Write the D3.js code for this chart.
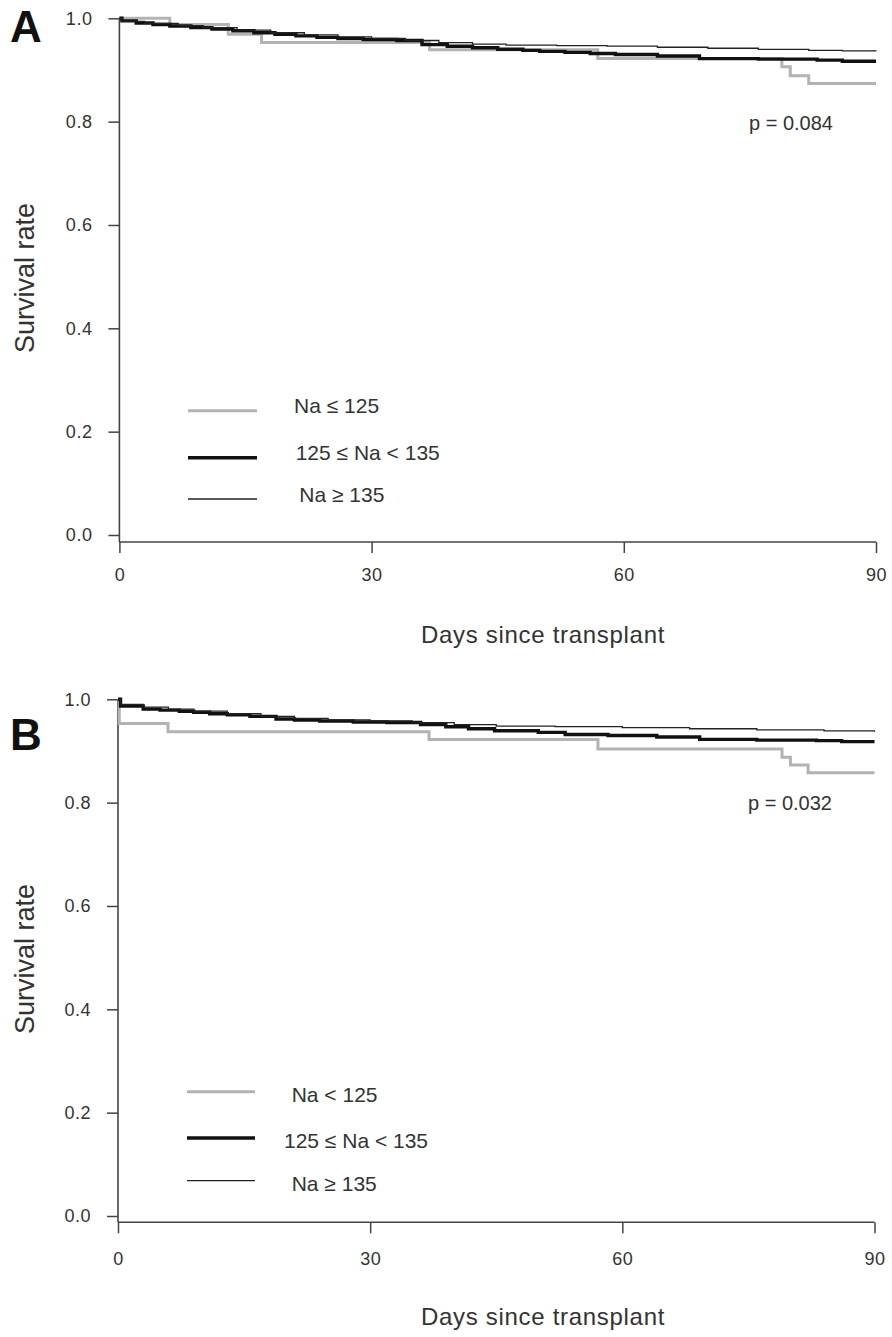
<!DOCTYPE html>
<html>
<head>
<meta charset="utf-8">
<script src="https://cdn.jsdelivr.net/npm/d3@7"></script>
<style>
  body { margin: 0; background: #fff; }
  text { font-family: "Liberation Sans", Arial, sans-serif; fill: #333; }
</style>
</head>
<body>
<svg id="chart" width="892" height="1337"></svg>
<script>
// Panel A, Kaplan-Meier steps (day, survival)
const aLowDays  = [0, 6.0, 12.95, 16.9, 36.9, 56.9, 78.8, 79.8, 82.0, 90];
const aLowSurv  = [1.0, 0.988, 0.969, 0.953, 0.939, 0.922, 0.906, 0.889, 0.874, 0.874];
const aMidDays  = [0, 0.3, 2, 4, 6, 8.5, 11, 13.5, 16, 18.5, 21, 23.5, 26, 29, 33, 36, 39, 42, 45, 48, 50, 53, 56, 59, 64, 69, 76, 83, 86, 90];
const aMidSurv  = [1.0, 0.995, 0.991, 0.988, 0.985, 0.982, 0.979, 0.976, 0.972, 0.969, 0.966, 0.963, 0.961, 0.959, 0.957, 0.949, 0.946, 0.943, 0.940, 0.938, 0.936, 0.934, 0.932, 0.930, 0.927, 0.922, 0.921, 0.919, 0.917, 0.917];
const aHighDays = [0, 0.3, 3, 7, 10, 14, 18, 22, 26, 30, 34, 38, 42, 46, 52, 58, 64, 70, 76, 82, 86, 90];
const aHighSurv = [1.0, 0.994, 0.990, 0.986, 0.982, 0.977, 0.972, 0.968, 0.964, 0.961, 0.957, 0.953, 0.950, 0.948, 0.947, 0.946, 0.944, 0.942, 0.940, 0.938, 0.937, 0.936];

// Panel B
const bLowDays  = [0, 0.15, 5.95, 37.0, 57.1, 79.0, 80.0, 82.1, 90];
const bLowSurv  = [1.0, 0.953, 0.937, 0.922, 0.904, 0.888, 0.873, 0.858, 0.858];
const bMidDays  = [0, 0.3, 3, 5, 7.3, 9, 10.9, 13, 15.7, 18.8, 21, 24, 28, 32, 36, 39, 41.7, 44.8, 50, 53.2, 58.3, 64.1, 69.2, 76, 83.1, 86.1, 90];
const bMidSurv  = [1.0, 0.987, 0.981, 0.979, 0.977, 0.975, 0.972, 0.970, 0.967, 0.962, 0.960, 0.958, 0.956, 0.955, 0.951, 0.947, 0.943, 0.939, 0.936, 0.932, 0.930, 0.927, 0.9225, 0.921, 0.920, 0.918, 0.918];
const bHighDays = [0, 0.3, 3, 6, 9, 13, 17, 21, 25, 30, 35, 40, 45, 52, 60, 68, 76, 84, 90];
const bHighSurv = [1.0, 0.990, 0.985, 0.981, 0.977, 0.972, 0.967, 0.963, 0.960, 0.958, 0.955, 0.951, 0.948, 0.947, 0.945, 0.943, 0.941, 0.939, 0.937];

const xTicks = [0, 30, 60, 90];
const yTicks = [0, 0.2, 0.4, 0.6, 0.8, 1.0];
const aLabels = ['Na \u2264 125', '125 \u2264 Na < 135', 'Na \u2265 135'];
const bLabels = ['Na < 125', '125 \u2264 Na < 135', 'Na \u2265 135'];
const pValues = ['p = 0.084', 'p = 0.032'];

const styles = [
  {stroke: '#b3b3b3', width: 3},
  {stroke: '#111', width: 3.4},
  {stroke: '#222', width: 1.3}
];

const svg = d3.select('#chart');

function drawPanel(p) {
  const x = d3.scaleLinear().domain([0, 90]).range([p.x0, p.x1]);
  const y = d3.scaleLinear().domain([0, 1]).range([p.y0, p.y1]);
  const g = svg.append('g');

  //Y axis: ticks to the left, spine runs down to the x axis line.
  g.append('g')
    .attr('transform', `translate(${p.x0},0)`)
    .call(d3.axisLeft(y).tickValues(yTicks).tickFormat(d3.format('.1f')).tickSize(11).tickPadding(16))
    .call(a => a.select('.domain').remove())
    .call(a => a.selectAll('line').attr('stroke', '#444').attr('stroke-width', 1.5))
    .call(a => a.selectAll('text').attr('font-size', 18).attr('fill', '#333')
      .attr('letter-spacing', 0.5)
      .attr('font-family', '"Liberation Sans", Arial, sans-serif'));
  g.append('line')
    .attr('x1', p.x0).attr('x2', p.x0)
    .attr('y1', y(1)).attr('y2', p.axisY)
    .attr('stroke', '#444').attr('stroke-width', 1.6);

  //X axis sits a little below 0.0.
  g.append('g')
    .attr('transform', `translate(0,${p.axisY})`)
    .call(d3.axisBottom(x).tickValues(xTicks).tickSize(11))
    .call(a => a.select('.domain').attr('stroke', '#444').attr('stroke-width', 1.6)
      .attr('d', `M${p.x0},0H${p.x1}`))
    .call(a => a.selectAll('line').attr('stroke', '#444').attr('stroke-width', 1.5))
    .call(a => a.selectAll('text').attr('font-size', 18).attr('fill', '#333')
      .attr('letter-spacing', 0.5)
      .attr('dy', null).attr('y', p.xLabelDy)
      .attr('font-family', '"Liberation Sans", Arial, sans-serif'));

  //Survival curves.
  const line = d3.line()
    .x(d => x(d[0]))
    .y(d => y(d[1]))
    .curve(d3.curveStepAfter);
  p.series.forEach((s, i) => {
    g.append('path')
      .datum(d3.zip(s.days, s.surv))
      .attr('d', line)
      .attr('fill', 'none')
      .attr('stroke', styles[i].stroke)
      .attr('stroke-width', styles[i].width);
  });

  //Legend.
  p.labels.forEach((lab, i) => {
    g.append('line')
      .attr('x1', p.legX0).attr('x2', p.legX1)
      .attr('y1', p.legY[i]).attr('y2', p.legY[i])
      .attr('stroke', styles[i].stroke)
      .attr('stroke-width', styles[i].width);
    g.append('text')
      .attr('x', p.legTextX[i]).attr('y', p.legY[i] + p.legTextDy)
      .attr('font-size', 21)
      .text(lab);
  });

  g.append('text')
    .attr('x', p.pX).attr('y', p.pY)
    .attr('font-size', 20)
    .text(p.pText);

  g.append('text')
    .attr('x', 543).attr('y', p.titleY)
    .attr('text-anchor', 'middle')
    .attr('font-size', 24)
    .attr('letter-spacing', 0.7)
    .text('Days since transplant');

  g.append('text')
    .attr('transform', `translate(34,${p.ylabY}) rotate(-90)`)
    .attr('text-anchor', 'middle')
    .attr('font-size', 27)
    .text('Survival rate');

  g.append('text')
    .attr('x', 10).attr('y', p.letterY)
    .attr('font-size', 44)
    .attr('font-weight', 'bold')
    .style('fill', '#111')
    .text(p.letter);
}

drawPanel({
  letter: 'A', letterY: 42,
  x0: 119.4, x1: 876, y0: 535, y1: 18.3, axisY: 542, xLabelDy: 38.7,
  series: [
    {days: aLowDays, surv: aLowSurv},
    {days: aMidDays, surv: aMidSurv},
    {days: aHighDays, surv: aHighSurv}
  ],
  labels: aLabels,
  legX0: 188, legX1: 257, legY: [410.7, 457.7, 499], legTextX: [294, 295.7, 299.3], legTextDy: 2.5,
  pText: pValues[0], pX: 749, pY: 130,
  titleY: 643, ylabY: 278
});

drawPanel({
  letter: 'B', letterY: 750,
  x0: 118, x1: 874.5, y0: 1216, y1: 699.3, axisY: 1222.3, xLabelDy: 42.7,
  series: [
    {days: bLowDays, surv: bLowSurv},
    {days: bMidDays, surv: bMidSurv},
    {days: bHighDays, surv: bHighSurv}
  ],
  labels: bLabels,
  legX0: 187, legX1: 255, legY: [1091.7, 1138, 1180.7], legTextX: [291.7, 284, 291.7], legTextDy: 10,
  pText: pValues[1], pX: 748, pY: 810,
  titleY: 1325, ylabY: 959
});
</script>
</body>
</html>
